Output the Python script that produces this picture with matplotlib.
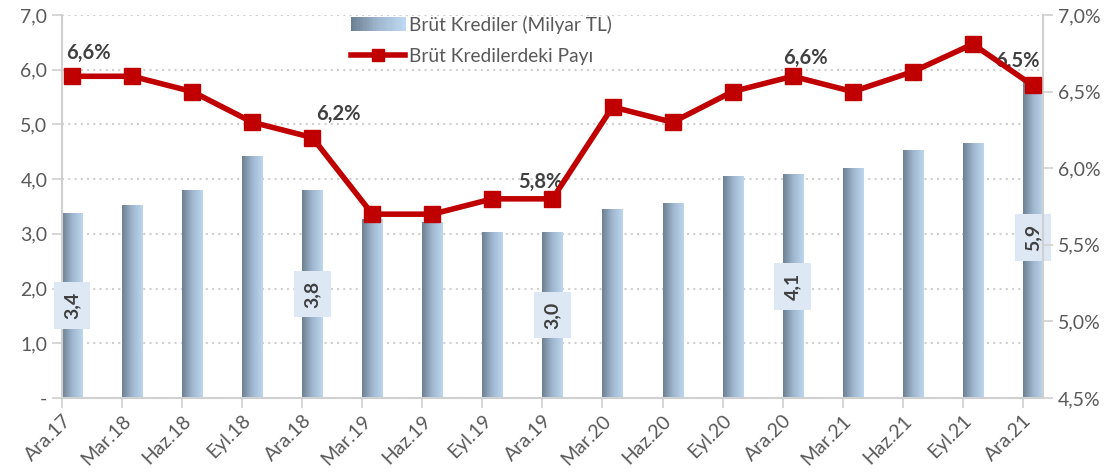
import numpy as np
import matplotlib
matplotlib.use("Agg")
import matplotlib.pyplot as plt
from matplotlib.patches import Rectangle
from matplotlib.legend_handler import HandlerPatch
from matplotlib.colors import LinearSegmentedColormap

plt.rcParams['font.family'] = ['Lato', 'DejaVu Sans']

# data
donemler = ["Ara.17", "Mar.18", "Haz.18", "Eyl.18", "Ara.18", "Mar.19", "Haz.19", "Eyl.19",
            "Ara.19", "Mar.20", "Haz.20", "Eyl.20", "Ara.20", "Mar.21", "Haz.21", "Eyl.21", "Ara.21"]
krediler = [3.37, 3.51, 3.80, 4.42, 3.80, 3.27, 3.20, 3.02, 3.03, 3.45, 3.55, 4.04, 4.08,
            4.20, 4.52, 4.66, 5.86]
pay = [6.6, 6.6, 6.5, 6.3, 6.2, 5.7, 5.7, 5.8, 5.8, 6.4, 6.3, 6.5, 6.6, 6.5, 6.63, 6.81, 6.54]

bar_label_idx = [0, 4, 8, 12, 16]
line_label_idx = [0, 4, 8, 12, 16]
line_label_off = [(12, 17), (19, 17), (-9, 12), (9, 13), (-11, 18)]

grey_txt = "#595959"
red = "#c00000"
gradient = LinearSegmentedColormap.from_list("bar", ["#6d8093", "#9fb7cf", "#bcd7ef"])


class GradientHandler(HandlerPatch):
    def create_artists(self, legend, orig_handle, xdescent, ydescent, width, height, fontsize, trans):
        arts = []
        n = 24
        for k in range(n):
            r = Rectangle((-xdescent + width * k / n, -ydescent), width / n + 0.3, height,
                          facecolor=gradient(k / (n - 1)), edgecolor="none", transform=trans)
            arts.append(r)
        return arts


fig = plt.figure(figsize=(11.14, 4.76), dpi=100)
ax = fig.add_axes([62 / 1114, 1 - 398 / 476, (1043 - 62) / 1114, (398 - 15) / 476])
ax2 = ax.twinx()

x = np.arange(len(donemler))
bw = 0.335
bars = ax.bar(x, krediler, width=bw, color="none", edgecolor="none", zorder=2)
grad_img = np.linspace(0, 1, 64).reshape(1, -1)
for b in bars:
    ax.imshow(grad_img, cmap=gradient, aspect="auto", zorder=2,
              extent=[b.get_x(), b.get_x() + b.get_width(), 0, b.get_height()])

for i in bar_label_idx:
    ax.text(x[i], krediler[i] / 2, f"{krediler[i]:.1f}".replace(".", ","), rotation=90,
            ha="center", va="center", fontsize=14, fontweight="bold", color="#404040", zorder=5,
            bbox=dict(boxstyle="square,pad=0.5", facecolor="#dde8f4", edgecolor="none"))

ax.set_xlim(-0.17, len(donemler) - 1 + 0.17)
ax.set_ylim(0, 7)
ax.set_yticks(np.arange(0, 8, 1))
ax.set_yticklabels(["-"] + [f"{v:.1f}".replace(".", ",") for v in range(1, 8)])
ax.set_xticks(x - bw / 2)
ax.set_xticklabels(donemler, rotation=45, ha="right", rotation_mode="anchor")
ax.yaxis.grid(True, linestyle=(0, (1, 2)), color="#d0d0d0", linewidth=1.5, zorder=0)
ax.set_axisbelow(True)

ax2.plot(x, pay, color=red, linewidth=4, marker="s", markersize=12, zorder=4,
         label="Brüt Kredilerdeki Payı")
for i, (dx, dy) in zip(line_label_idx, line_label_off):
    ax2.annotate(f"{pay[i]:.1f}%".replace(".", ","), (x[i], pay[i]), xytext=(dx, dy),
                 textcoords="offset points", ha="center", va="center",
                 fontsize=14.5, fontweight="bold", color="#404040")
ax2.set_ylim(4.5, 7.0)
ax2.set_yticks(np.arange(4.5, 7.01, 0.5))
ax2.set_yticklabels([f"{v:.1f}%".replace(".", ",") for v in np.arange(4.5, 7.01, 0.5)])

for a in (ax, ax2):
    for s in a.spines.values():
        s.set_visible(False)
    a.tick_params(colors="#d0d0d0", labelcolor=grey_txt, labelsize=14, length=7, width=1.2)
ax.spines["left"].set_visible(True)
ax.spines["bottom"].set_visible(True)
ax2.spines["right"].set_visible(True)
for s in (ax.spines["left"], ax.spines["bottom"], ax2.spines["right"]):
    s.set_color("#d0d0d0")
    s.set_linewidth(1.5)
ax.tick_params(axis="x", pad=3)

h_bar = Rectangle((0, 0), 1, 1, label="Brüt Krediler (Milyar TL)")
h_line_leg = plt.Line2D([], [], color=red, linewidth=4, marker="s", markersize=9)
fig.legend([h_bar, h_line_leg], ["Brüt Krediler (Milyar TL)", "Brüt Kredilerdeki Payı"],
           handler_map={Rectangle: GradientHandler()}, loc="upper left",
           bbox_to_anchor=(343 / 1114, 1 - 8 / 476), frameon=False, fontsize=13.8,
           labelcolor=grey_txt, handlelength=2.85, handletextpad=0.2, labelspacing=0.75,
           borderaxespad=0)

fig.savefig("out.png", dpi=100)
